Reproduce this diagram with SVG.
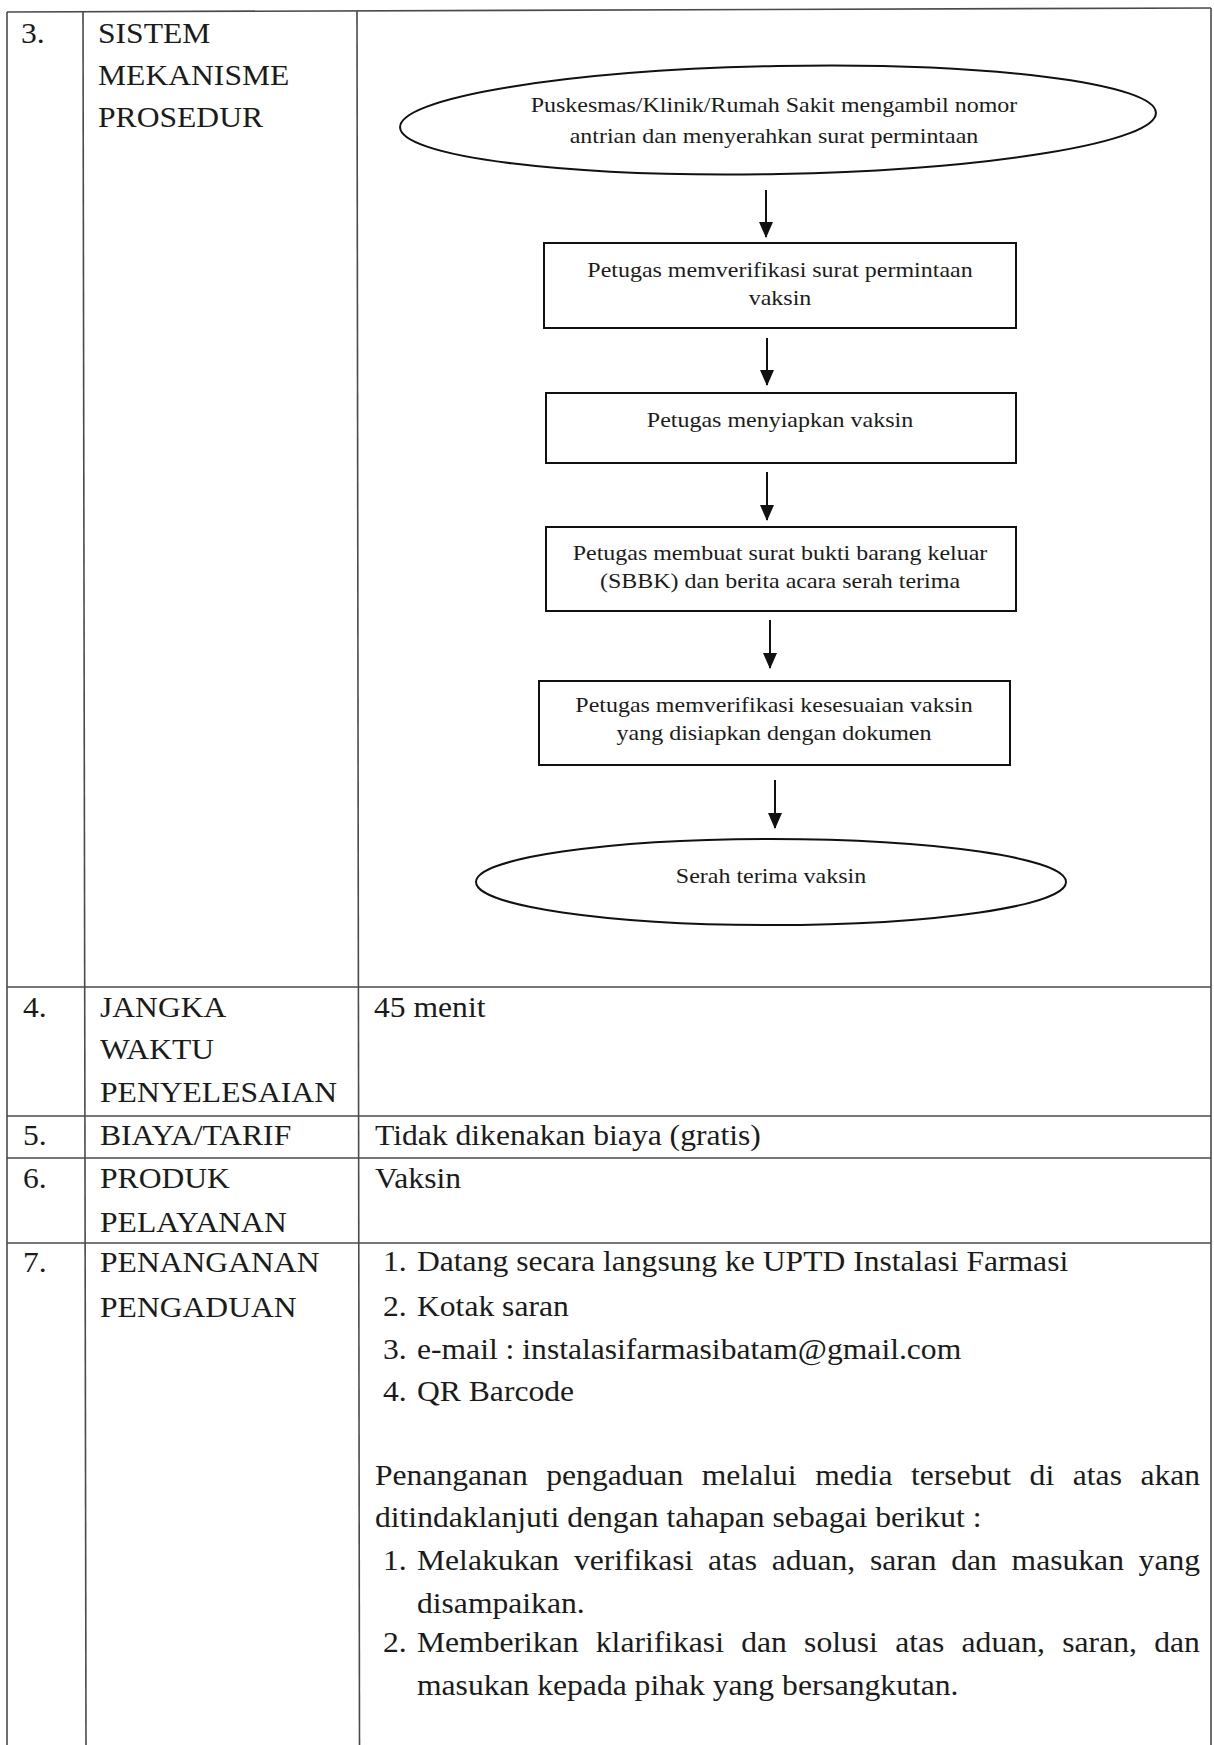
<svg xmlns="http://www.w3.org/2000/svg" width="1214" height="1745" viewBox="0 0 1214 1745">
<style>
.t{font-family:"Liberation Serif","Times New Roman",serif;fill:#1b1b1b;font-variant-ligatures:none}
.tb{font-size:29px}
.tf{font-size:22px;text-anchor:middle}
.grid{stroke:#4a4a4a;stroke-width:1.6;fill:none}
.shape{stroke:#111;stroke-width:2;fill:none}
.conn{stroke:#111;stroke-width:2;fill:none;marker-end:url(#ah)}
</style>
<defs>
<marker id="ah" viewBox="0 0 16 14" markerWidth="16" markerHeight="14" refX="15" refY="7" orient="auto" markerUnits="userSpaceOnUse">
<path d="M0,0 L16,7 L0,14 Z" fill="#111"/>
</marker>
</defs>
<rect width="1214" height="1745" fill="#ffffff"/>
<g id="table-grid" class="grid">
<line x1="7" y1="12" x2="1211" y2="8"/>
<line x1="7" y1="12" x2="7" y2="1745"/>
<line x1="83" y1="12" x2="86" y2="1745"/>
<line x1="357" y1="11" x2="359.5" y2="1745"/>
<line x1="1211" y1="8" x2="1211" y2="1745"/>
<line x1="7" y1="987" x2="1211" y2="987"/>
<line x1="7" y1="1116" x2="1211" y2="1116"/>
<line x1="7" y1="1158" x2="1211" y2="1158"/>
<line x1="7" y1="1243" x2="1211" y2="1243"/>
</g>
<g id="table-text" class="t tb" transform="scale(1.09 1)">
<text x="19.27" y="43">3.</text>
<text x="89.91" y="43">SISTEM</text>
<text x="89.91" y="85">MEKANISME</text>
<text x="89.91" y="127">PROSEDUR</text>
<text x="21.10" y="1017">4.</text>
<text x="91.74" y="1017">JANGKA</text>
<text x="91.74" y="1059">WAKTU</text>
<text x="91.74" y="1102">PENYELESAIAN</text>
<text x="343.12" y="1017">45 menit</text>
<text x="21.10" y="1145">5.</text>
<text x="91.74" y="1145">BIAYA/TARIF</text>
<text x="344.04" y="1145">Tidak dikenakan biaya (gratis)</text>
<text x="21.10" y="1188">6.</text>
<text x="91.74" y="1188">PRODUK</text>
<text x="91.74" y="1232">PELAYANAN</text>
<text x="344.04" y="1188">Vaksin</text>
<text x="21.10" y="1272">7.</text>
<text x="91.74" y="1272">PENANGANAN</text>
<text x="91.74" y="1317">PENGADUAN</text>
<text x="351.38" y="1271">1.</text>
<text x="382.57" y="1271">Datang secara langsung ke UPTD Instalasi Farmasi</text>
<text x="351.38" y="1316">2.</text>
<text x="382.57" y="1316">Kotak saran</text>
<text x="351.38" y="1359">3.</text>
<text x="382.57" y="1359">e-mail : instalasifarmasibatam@gmail.com</text>
<text x="351.38" y="1401">4.</text>
<text x="382.57" y="1401">QR Barcode</text>
<text y="1485"><tspan x="344.04">Penanganan</tspan><tspan x="501.19">pengaduan</tspan><tspan x="643.85">melalui</tspan><tspan x="747.89">media</tspan><tspan x="835.78">tersebut</tspan><tspan x="944.59">di</tspan><tspan x="984.22">atas</tspan><tspan x="1046.33">akan</tspan></text>
<text x="344.04" y="1527">ditindaklanjuti dengan tahapan sebagai berikut :</text>
<text x="351.38" y="1570">1.</text>
<text y="1570"><tspan x="382.57">Melakukan</tspan><tspan x="526.51">verifikasi</tspan><tspan x="649.54">atas</tspan><tspan x="708.07">aduan,</tspan><tspan x="798.07">saran</tspan><tspan x="872.75">dan</tspan><tspan x="928.07">masukan</tspan><tspan x="1044.59">yang</tspan></text>
<text x="382.57" y="1613">disampaikan.</text>
<text x="351.38" y="1652">2.</text>
<text y="1652"><tspan x="382.57">Memberikan</tspan><tspan x="546.61">klarifikasi</tspan><tspan x="680.00">dan</tspan><tspan x="737.71">solusi</tspan><tspan x="821.28">atas</tspan><tspan x="882.20">aduan,</tspan><tspan x="974.59">saran,</tspan><tspan x="1058.90">dan</tspan></text>
<text x="382.57" y="1695">masukan kepada pihak yang bersangkutan.</text>
</g>
<g id="start">
<ellipse class="shape" cx="778" cy="120" rx="378" ry="54" transform="rotate(-1.1 778 120)"/>
<g class="t tf" transform="scale(1.09 1)">
<text x="710.09" y="112">Puskesmas/Klinik/Rumah Sakit mengambil nomor</text>
<text x="710.09" y="143">antrian dan menyerahkan surat permintaan</text>
</g>
</g>
<g id="verify-request">
<rect class="shape" x="544" y="243" width="472" height="85"/>
<g class="t tf" transform="scale(1.09 1)">
<text x="715.60" y="277">Petugas memverifikasi surat permintaan</text>
<text x="715.60" y="305">vaksin</text>
</g>
</g>
<g id="prepare">
<rect class="shape" x="546" y="393" width="470" height="70"/>
<g class="t tf" transform="scale(1.09 1)">
<text x="715.60" y="427">Petugas menyiapkan vaksin</text>
</g>
</g>
<g id="sbbk">
<rect class="shape" x="546" y="527" width="470" height="84"/>
<g class="t tf" transform="scale(1.09 1)">
<text x="715.60" y="560">Petugas membuat surat bukti barang keluar</text>
<text x="715.60" y="588">(SBBK) dan berita acara serah terima</text>
</g>
</g>
<g id="verify-match">
<rect class="shape" x="539" y="681" width="471" height="84"/>
<g class="t tf" transform="scale(1.09 1)">
<text x="710.09" y="712">Petugas memverifikasi kesesuaian vaksin</text>
<text x="710.09" y="740">yang disiapkan dengan dokumen</text>
</g>
</g>
<g id="end">
<ellipse class="shape" cx="771" cy="882" rx="295" ry="43"/>
<g class="t tf" transform="scale(1.09 1)">
<text x="707.34" y="883">Serah terima vaksin</text>
</g>
</g>
<g id="connectors">
<line class="conn" x1="766" y1="190" x2="766" y2="237"/>
<line class="conn" x1="767" y1="338" x2="767" y2="385"/>
<line class="conn" x1="767" y1="472" x2="767" y2="520"/>
<line class="conn" x1="770" y1="620" x2="770" y2="668"/>
<line class="conn" x1="775" y1="780" x2="775" y2="828"/>
</g>
</svg>
